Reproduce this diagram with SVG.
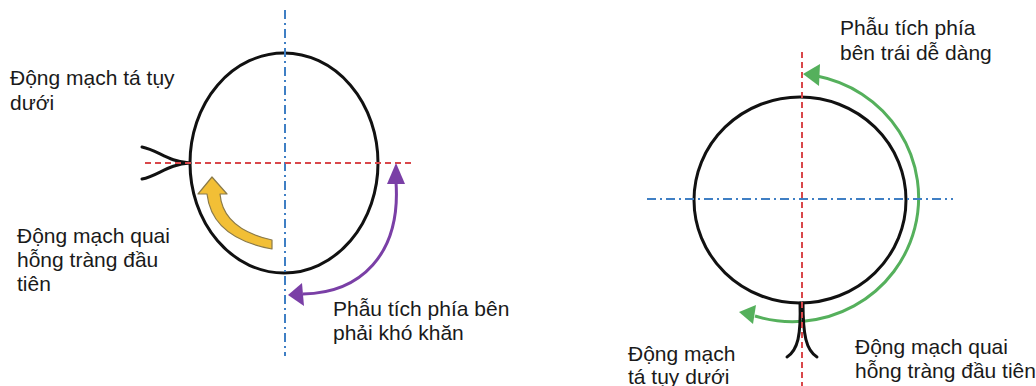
<svg xmlns="http://www.w3.org/2000/svg" width="1036" height="386" viewBox="0 0 1036 386">
<style>
text{font-family:"Liberation Sans",Arial,sans-serif;font-size:21px;fill:#1a1a1a}
.organ{fill:none;stroke:#111;stroke-width:3}
.red{stroke:#d9474a;stroke-width:2;stroke-dasharray:6 4;fill:none}
.blue{stroke:#3f7fc4;stroke-width:2;stroke-dasharray:9 4 2 4;fill:none}
.vessel{fill:none;stroke:#111;stroke-width:3;stroke-linecap:round}
</style>
<rect width="1036" height="386" fill="#fff"/>
<g id="left-diagram">
<g id="left-organ"><ellipse class="organ" cx="284" cy="163" rx="94" ry="110"/></g>
<g id="left-vessel"><path class="vessel" d="M142,147 C158,150 168,162 190,163 M142,179 C158,176 168,164 190,163"/></g>
<g id="left-axes">
<line class="blue" x1="285" y1="10" x2="285" y2="356"/>
<line class="red" x1="145" y1="163" x2="415" y2="163"/>
</g>
</g>
<g id="connectors">
<path id="yellow-arrow" d="M212,177 L227,194 L220,194 Q223,229 272,240 L272,249 Q212,238 207,194 L198,194 Z" fill="#f2bf36" stroke="#8a7a4a" stroke-width="1.2" stroke-linejoin="round"/>
<g id="purple-arrow">
<path d="M396,182 C401,255 360,293 303,294" fill="none" stroke="#7a3fa6" stroke-width="3"/>
<polygon points="396,163 405,184 387,184" fill="#7a3fa6"/>
<polygon points="288,295 302,283 304,306" fill="#7a3fa6"/>
</g>
<g id="green-arrow">
<path d="M817,76 A126 124 0 1 1 755,316" fill="none" stroke="#55b05c" stroke-width="3"/>
<polygon points="803,74 820,64 819,86" fill="#55b05c"/>
<polygon points="739,312 756,305 753,324" fill="#55b05c"/>
</g>
</g>
<g id="right-diagram">
<g id="right-organ"><ellipse class="organ" cx="800" cy="200" rx="106" ry="103"/></g>
<g id="right-vessel"><path class="vessel" d="M800,303 C801,335 798,350 787,357 M803,303 C803,335 806,350 817,357"/></g>
<g id="right-axes">
<line class="red" x1="802" y1="52" x2="802" y2="386"/>
<line class="blue" x1="647" y1="199" x2="953" y2="199"/>
</g>
</g>
<g id="labels">
<text x="10" y="85">Động mạch tá tụy</text>
<text x="10" y="110">dưới</text>
<text x="17" y="243">Động mạch quai</text>
<text x="17" y="267">hỗng tràng đầu</text>
<text x="17" y="291">tiên</text>
<text x="333" y="316">Phẫu tích phía bên</text>
<text x="333" y="340">phải khó khăn</text>
<text x="840" y="35">Phẫu tích phía</text>
<text x="840" y="60">bên trái dễ dàng</text>
<text x="628" y="361">Động mạch</text>
<text x="628" y="384">tá tụy dưới</text>
<text x="855" y="354">Động mạch quai</text>
<text x="855" y="378">hỗng tràng đầu tiên</text>
</g>
</svg>
